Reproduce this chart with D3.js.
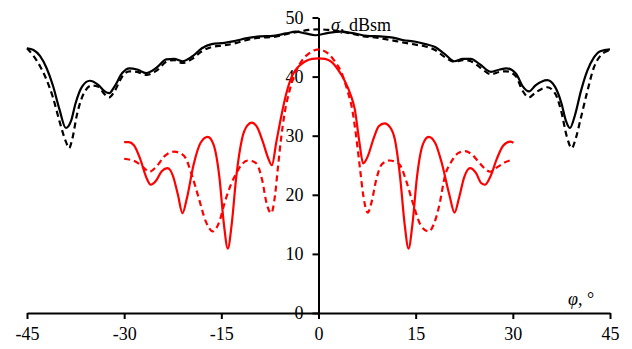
<!DOCTYPE html>
<html>
<head>
<meta charset="utf-8">
<script src="https://cdn.jsdelivr.net/npm/d3@7"></script>
<style>
  body { margin: 0; background: #fff; }
  svg { display: block; }
</style>
</head>
<body>
<div id="vis"></div>
<script>
// x ticks and y ticks
var xTicks = [-45, -30, -15, 0, 15, 30, 45];
var yTicks = [0, 10, 20, 30, 40, 50];

// black solid  [phi, sigma]
var blackSolid = [
  [-45, 44.8], [-44, 44.5], [-43, 43.5], [-42, 41.5], [-41, 38.5], [-40, 34.5], [-39, 31.3],
  [-38.2, 32.5], [-37.5, 35.5], [-36.5, 38.3], [-35.3, 39.3], [-34, 38.6], [-33, 37.5],
  [-32.3, 37.2], [-31.5, 38.3], [-30.3, 40.6], [-29.2, 41.4], [-28, 41.2], [-26.6, 40.6],
  [-25, 41.5], [-23.5, 42.9], [-22.3, 43.0], [-21, 42.6], [-19.5, 43.4], [-18, 44.8],
  [-16.5, 45.5], [-14.5, 45.7], [-13, 46.0], [-11, 46.5], [-9, 46.8], [-7, 46.9], [-5, 47.3],
  [-3.5, 47.6], [-2, 47.3], [-0.5, 47.0], [1.5, 47.4], [3.5, 47.6], [5.5, 47.3], [7.5, 46.9],
  [9.5, 46.8], [11.5, 46.6], [13, 46.2], [15, 45.9], [16.5, 45.5], [18, 45.0], [19.5, 43.8],
  [21, 42.6], [22.3, 43.0], [23.5, 43.0], [25, 42.0], [26.6, 40.8], [28, 41.2], [29, 41.4],
  [30.5, 40.5], [31.5, 38.4], [32.5, 37.5], [33.5, 38.5], [35.3, 39.4], [36.5, 38.3],
  [37.5, 35.5], [38.2, 32.5], [38.8, 31.3], [39.6, 33.5], [40.5, 37.5], [41.5, 41],
  [42.5, 43.2], [43.5, 44.3], [45, 44.6]
];

// black dashed
var blackDash = [
  [-45, 44.8], [-44, 43.5], [-43, 41.8], [-42, 39.5], [-41, 36.5], [-40, 32.5], [-39, 29],
  [-38.5, 27.9], [-38, 29.5], [-37.3, 33.5], [-36.3, 37], [-35, 38.5], [-34, 38.3], [-33, 37],
  [-32.3, 36.5], [-31.5, 37.5], [-30.3, 40], [-29.2, 40.9], [-28, 40.8], [-26.6, 40.3],
  [-25, 41], [-23.5, 42.5], [-22.3, 42.8], [-21, 42.3], [-19.5, 43.0], [-18, 44.3],
  [-16.5, 45.0], [-14.5, 45.3], [-13, 45.6], [-11, 46.2], [-9, 46.6], [-7, 46.7], [-5, 47.2],
  [-3, 47.6], [-1.5, 47.9], [0, 48.0], [1.5, 47.9], [3, 47.7], [5, 47.3], [7, 46.8], [9, 46.6],
  [11, 46.2], [13, 45.8], [15, 45.4], [16.5, 45.1], [18, 44.5], [19.5, 43.3], [21, 42.5],
  [22.3, 42.8], [23.5, 42.6], [25, 41.5], [26.6, 40.4], [28, 40.8], [29, 40.9], [30.5, 40],
  [31.5, 37.6], [32.5, 36.5], [33.5, 37.3], [35.3, 38.2], [36.5, 37.2], [37.5, 34], [38.3, 30],
  [39.1, 27.9], [39.7, 29.5], [40.5, 33], [41.5, 37.5], [42.5, 41.5], [43.5, 43.5],
  [44.5, 44.3], [45, 44.4]
];

// red solid
var redSolid = [
  [-30, 28.9], [-29.3, 28.9], [-28.5, 28.4], [-27.5, 26.0], [-26.6, 23], [-25.9, 21.7],
  [-25, 22.5], [-24.2, 24.0], [-23.3, 24.5], [-22.5, 23.3], [-21.7, 20], [-21, 16.9],
  [-20.3, 19.5], [-19.3, 25], [-18.2, 28.8], [-17.1, 29.8], [-16.2, 28.5], [-15.3, 23],
  [-14.6, 15], [-14, 10.9], [-13.4, 15], [-12.7, 23], [-11.8, 29.5], [-11, 31.7],
  [-10.3, 32.2], [-9.5, 31.5], [-8.6, 29.0], [-7.8, 26.3], [-7.2, 25.0], [-6.5, 29],
  [-5.8, 33], [-5, 37], [-4, 40.3], [-3, 41.8], [-2, 42.6], [-1, 43.0], [0, 43.1], [1, 43.0],
  [2, 42.5], [3, 41.2], [4, 39.4], [5, 36.8], [5.6, 34.5], [6.3, 29], [6.9, 25.3], [7.6, 26.5],
  [8.5, 29.5], [9.3, 31.6], [10.2, 32.1], [11, 31.5], [11.8, 29.3], [12.6, 23], [13.3, 15],
  [13.9, 10.9], [14.5, 15], [15.2, 23], [16.1, 28.5], [17, 29.8], [18, 28.8], [19, 25.5],
  [20.2, 20], [21, 17], [21.7, 19.5], [22.5, 23], [23.4, 24.5], [24.3, 23.7], [25.1, 22],
  [25.7, 21.7], [26.5, 23], [27.5, 26], [28.5, 28.3], [29.6, 29], [30.1, 28.8]
];

// red dashed
var redDash = [
  [-30, 26.1], [-29, 25.9], [-28.2, 25.6], [-27, 24.6], [-26.1, 23.9], [-25, 24.8],
  [-23.8, 26.5], [-22.3, 27.3], [-21.3, 27.0], [-20.5, 26.2], [-19.6, 23.5], [-18.5, 19.5],
  [-17.4, 15.5], [-16.3, 13.8], [-15.3, 15.5], [-14.5, 18.6], [-13.5, 21.8], [-12.7, 23.6],
  [-11.8, 25.2], [-10.9, 25.8], [-10, 25.6], [-9.4, 25.0], [-8.7, 22.5], [-8, 18.5],
  [-7.3, 16.9], [-6.7, 20], [-6.3, 24.2], [-5.8, 29.3], [-5.2, 34], [-4.5, 37.5], [-3.5, 40.8],
  [-2.5, 42.8], [-1.5, 43.9], [-0.5, 44.5], [0, 44.6], [0.5, 44.5], [1.5, 43.9], [2.5, 42.6],
  [3.5, 40.8], [4.5, 37.5], [5.2, 34.5], [5.8, 30], [6.4, 24.5], [6.9, 20], [7.6, 17],
  [8.2, 18.8], [8.9, 22.5], [9.8, 25.2], [11, 25.8], [11.8, 25.6], [12.6, 25], [13.5, 22.5],
  [14.6, 18.5], [15.8, 14.8], [17, 13.8], [17.9, 15.3], [18.7, 18.5], [19.5, 23.1],
  [20.5, 25.6], [21.5, 27], [22.6, 27.4], [23.7, 26.8], [24.7, 25.6], [25.7, 24.4],
  [26.5, 23.9], [27.5, 24.6], [28.8, 25.5], [30.1, 26]
];

var width = 632, height = 349;
var serif = "'Liberation Serif', 'Times New Roman', Times, serif";

var svg = d3.select("#vis").append("svg")
    .attr("width", width)
    .attr("height", height);

var x = d3.scaleLinear().domain([-45, 45]).range([27, 610]);
var y = d3.scaleLinear().domain([0, 50]).range([313, 17.5]);

var line = d3.line()
    .x(function (d) { return x(d[0]); })
    .y(function (d) { return y(d[1]); })
    .curve(d3.curveMonotoneX);

// axes (plain hyphen for negatives, like the source)
var fmt = function (d) { return String(d); };

var gx = svg.append("g")
    .attr("transform", "translate(0," + y(0) + ")")
    .call(d3.axisBottom(x).tickValues(xTicks).tickFormat(fmt).tickSize(6).tickSizeOuter(0).tickPadding(8));

var gy = svg.append("g")
    .attr("transform", "translate(" + x(0) + ",0)")
    .call(d3.axisLeft(y).tickValues(yTicks).tickFormat(fmt).tickSize(6).tickSizeOuter(0).tickPadding(9));

[gx, gy].forEach(function (g) {
    g.attr("font-family", serif).attr("font-size", 18);
    g.selectAll("path, line").attr("stroke", "#000").attr("stroke-width", 2);
    g.selectAll("text").attr("fill", "#000").attr("font-family", serif);
});

// curves
var series = [
  { data: redSolid, color: "#ff0000", dash: null },
  { data: redDash, color: "#ff0000", dash: "6,4" },
  { data: blackDash, color: "#000", dash: "6,4" },
  { data: blackSolid, color: "#000", dash: null }
];

svg.selectAll(".curve")
    .data(series)
    .enter()
    .append("path")
    .attr("class", "curve")
    .attr("d", function (d) { return line(d.data); })
    .attr("fill", "none")
    .attr("stroke", function (d) { return d.color; })
    .attr("stroke-width", 2.2)
    .attr("stroke-dasharray", function (d) { return d.dash; });

// axis titles
var t1 = svg.append("text")
    .attr("x", 331)
    .attr("y", 31)
    .attr("font-family", serif)
    .attr("font-size", 18);
t1.append("tspan").attr("font-style", "italic").text("σ");
t1.append("tspan").text(", dBsm");

var t2 = svg.append("text")
    .attr("x", 568)
    .attr("y", 305)
    .attr("font-family", serif)
    .attr("font-size", 18);
t2.append("tspan").attr("font-style", "italic").text("φ");
t2.append("tspan").text(", °");
</script>
</body>
</html>
